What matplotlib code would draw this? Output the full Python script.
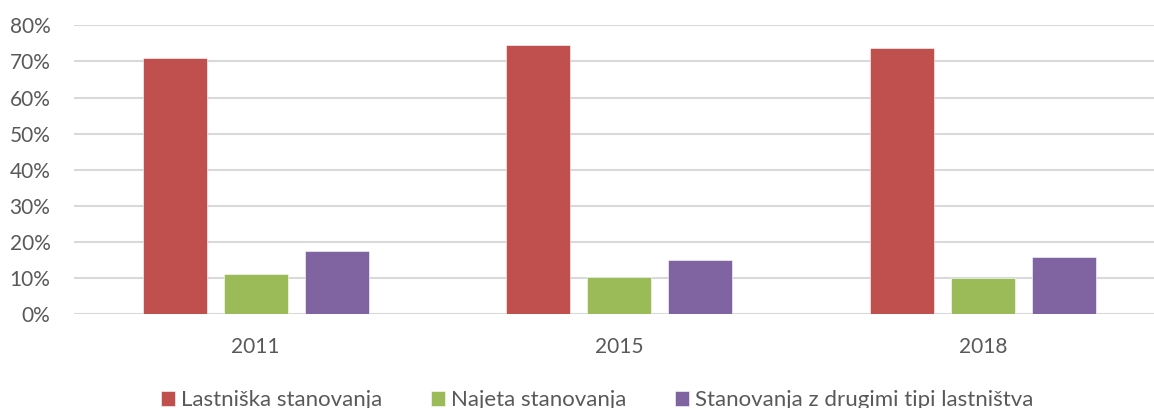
import matplotlib.pyplot as plt
import numpy as np
from matplotlib.ticker import FuncFormatter

years = ["2011", "2015", "2018"]
series_names = ["Lastniška stanovanja", "Najeta stanovanja", "Stanovanja z drugimi tipi lastništva"]
owned = [71.0, 74.5, 73.6]
rented = [11.2, 10.2, 10.0]
other = [17.5, 15.0, 15.9]
colors = ["#C0504D", "#9BBB59", "#8064A2"]

plt.rcParams["font.family"] = ["Lato", "DejaVu Sans"]

fig = plt.figure(figsize=(11.54, 4.08), dpi=100)
ax = fig.add_axes([74 / 1154, 93.7 / 408, 1090.5 / 1154, 289 / 408])

x = np.arange(len(years))
width = 0.176
step = 0.223
handles = []
for i, (vals, name, col) in enumerate(zip([owned, rented, other], series_names, colors)):
    b = ax.bar(x + (i - 1) * step, vals, width, color=col, label=name, zorder=3,
               edgecolor="white", linewidth=0.4)
    handles.append(b)

ax.set_xlim(-0.5, 2.5)
ax.set_ylim(0, 80)
ax.set_yticks(range(0, 81, 10))
ax.yaxis.set_major_formatter(FuncFormatter(lambda v, _: f"{int(v)}%"))
ax.set_xticks(x)
ax.set_xticklabels(years)
ax.grid(axis="y", color="#D9D9D9", linewidth=1.5, zorder=0)
for side in ["top", "right", "left", "bottom"]:
    ax.spines[side].set_visible(False)
ax.tick_params(axis="both", length=0, labelsize=15, colors="#595959")
ax.tick_params(axis="y", pad=17)
ax.tick_params(axis="x", pad=16)

fig.legend(handles=handles, labels=series_names, loc="center", ncol=3,
           bbox_to_anchor=(597 / 1154, 8 / 408), frameon=False, fontsize=16,
           labelcolor="#595959", handlelength=0.65, handleheight=0.65,
           handletextpad=0.25, columnspacing=2.2)

fig.savefig("out.png", dpi=100, facecolor="white")
